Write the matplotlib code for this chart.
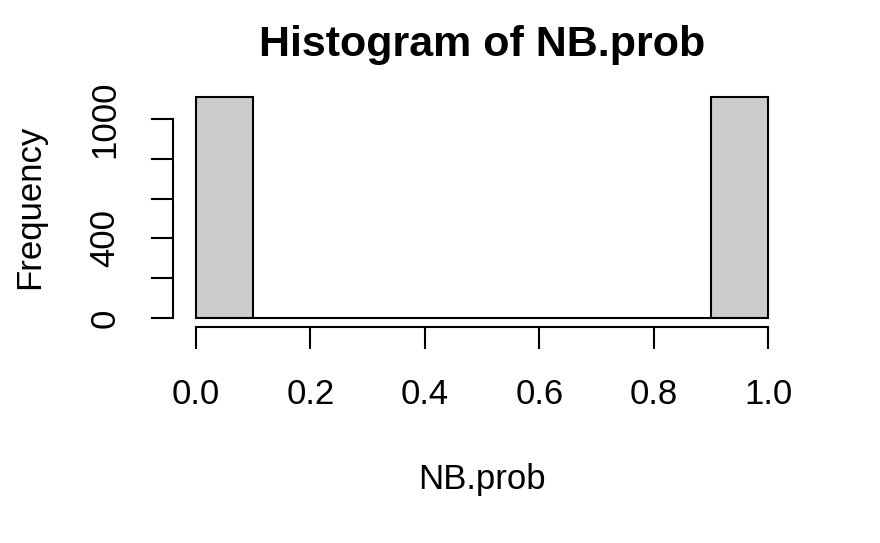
import numpy as np
import matplotlib
matplotlib.use('Agg')
import matplotlib.pyplot as plt

# histogram of NB.prob, 10 bins of width 0.1
bin_edges = [0.0, 0.1, 0.2, 0.3, 0.4, 0.5, 0.6, 0.7, 0.8, 0.9, 1.0]
counts = [1110, 2, 1, 0, 0, 0, 0, 1, 2, 1110]
x_ticks = [0.0, 0.2, 0.4, 0.6, 0.8, 1.0]
y_ticks = [0, 200, 400, 600, 800, 1000]
y_tick_labels = ['0', '', '400', '', '', '1000']

plt.rcParams['font.family'] = ['Liberation Sans', 'DejaVu Sans']

W, H = 880, 543
fig = plt.figure(figsize=(W / 100, H / 100), dpi=100)
# plot region in pixels (R style: 4% padding on both axes)
left, right, top, bottom = 173, 791, 88, 327
ax = fig.add_axes([left / W, 1 - bottom / H, (right - left) / W, (bottom - top) / H])

lefts = np.array(bin_edges[:-1])
widths = np.diff(bin_edges)
ax.bar(lefts, counts, width=widths, align='edge', color='#CCCCCC',
       edgecolor='black', linewidth=1.5)

ymax = max(counts)
ax.set_xlim(-0.04, 1.04)
ax.set_ylim(-0.04 * ymax, 1.04 * ymax)

for s in ['top', 'right']:
    ax.spines[s].set_visible(False)
ax.spines['left'].set_bounds(0, 1000)
ax.spines['bottom'].set_bounds(0, 1)
for s in ['left', 'bottom']:
    ax.spines[s].set_linewidth(1.5)

ax.set_xticks(x_ticks)
ax.set_xticklabels([f"{v:.1f}" for v in x_ticks])
ax.set_yticks(y_ticks)
ax.set_yticklabels(y_tick_labels, rotation=90, va='center')
ax.tick_params(axis='both', length=16, width=1.5, labelsize=25)
ax.tick_params(axis='x', pad=21)
ax.tick_params(axis='y', pad=21)

fig.text((left + right) / 2 / W, 1 - 45 / H, "Histogram of NB.prob",
         ha='center', va='center', fontsize=31, fontweight='bold')
fig.text((left + right) / 2 / W, 1 - 480 / H, "NB.prob",
         ha='center', va='center', fontsize=25)
fig.text(30 / W, 1 - 207 / H, "Frequency", rotation=90,
         ha='center', va='center', fontsize=25)

fig.savefig("out.png", dpi=100, facecolor='white')
